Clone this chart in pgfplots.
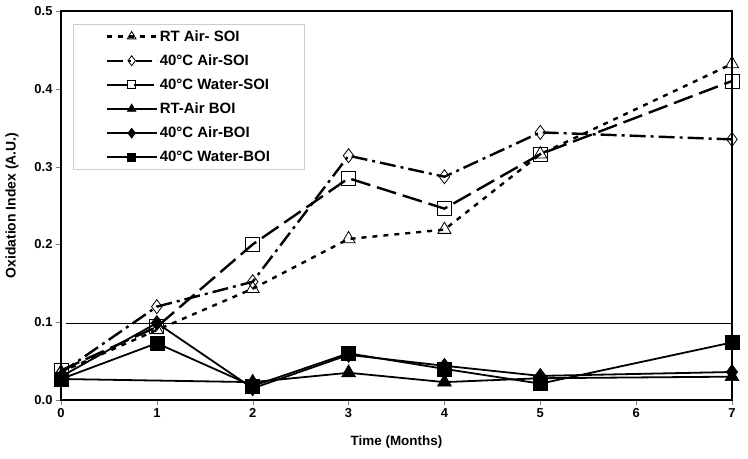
\documentclass[border=0pt]{standalone}
\usepackage{fontspec}
\setmainfont{Liberation Sans}
\usepackage{pgfplots}
\pgfplotsset{compat=1.18}

\pgfplotsset{
  leg/.style={legend image code/.code={\draw[mark repeat=2,mark phase=2,mark size=#1] plot coordinates {(0bp,0bp) (25bp,0bp) (50bp,0bp)};}}
}

\begin{document}
\begin{tikzpicture}[font=\bfseries]
\begin{axis}[
    name=ax,
    scale only axis,
    width=671bp, height=389bp,
    xmin=0, xmax=7, ymin=0, ymax=0.5,
    xtick={0,1,2,3,4,5,6,7},
    ytick={0,0.1,0.2,0.3,0.4,0.5},
    yticklabel style={/pgf/number format/.cd, fixed, fixed zerofill, precision=1},
    /pgf/number format/assume math mode=true,
    tick label style={font=\fontsize{13}{15}\selectfont\bfseries},
    xtick pos=bottom, ytick pos=left,
    tick align=outside,
    major tick length=5bp,
    axis line style={line width=1.2bp},
    xlabel={Time (Months)},
    ylabel={Oxidation Index (A.U.)},
    x label style={at={(axis description cs:0.5,0)}, yshift=-42bp, anchor=center, font=\fontsize{13.5}{16}\selectfont\bfseries},
    y label style={at={(axis description cs:0,0.5)}, yshift=49bp, anchor=center, font=\fontsize{14}{16}\selectfont\bfseries},
    legend cell align=left,
    legend style={at={(0.018,0.967)}, anchor=north west, draw=black!20, line width=0.8bp,
        font=\fontsize{15}{17}\selectfont\bfseries, inner xsep=32bp, inner ysep=4bp,
        row sep=8bp},
]
% SOI series
\addplot[black, line width=2.4bp, dash pattern=on 5bp off 6bp, leg=5bp,
    mark=triangle, mark size=7.5bp, mark options={solid, fill=white, line width=0.8bp},
    error bars/.cd, y dir=plus, y explicit, error mark options={black, solid, mark size=6bp, line width=0.9bp}]
    coordinates {(0,0.036) +- (0,0.015) (1,0.090) (2,0.143) (3,0.207) (4,0.219) (5,0.316) (7,0.432)};
\addlegendentry{RT Air- SOI}
\addplot[black, line width=2.4bp, dash pattern=on 16bp off 5bp on 3bp off 5bp, leg=5bp,
    mark=diamond, mark size=7bp, mark options={solid, fill=white, line width=0.8bp}]
    coordinates {(0,0.035) (1,0.120) (2,0.152) (3,0.314) (4,0.287) (5,0.344) (7,0.335)};
\addlegendentry{40°C Air-SOI}
\addplot[black, line width=2.4bp, dash pattern=on 20bp off 7bp, leg=4bp,
    mark=square, mark size=7bp, mark options={solid, fill=white, line width=0.8bp}]
    coordinates {(0,0.038) (1,0.094) (2,0.200) (3,0.285) (4,0.246) (5,0.316) (7,0.410)};
\addlegendentry{40°C Water-SOI}
% BOI series
\addplot[black, line width=1.8bp, leg=5bp, mark=triangle*, mark size=8bp, mark options={solid, line width=0.6bp}]
    coordinates {(0,0.027) (2,0.023) (3,0.035) (4,0.023) (5,0.028) (7,0.030)};
\addlegendentry{RT-Air BOI}
\addplot[black, line width=1.8bp, leg=5bp, mark=diamond*, mark size=7.5bp, mark options={solid, line width=0.6bp}]
    coordinates {(0,0.030) (1,0.099) (2,0.015) (3,0.058) (4,0.044) (5,0.031) (7,0.036)};
\addlegendentry{40°C Air-BOI}
\addplot[black, line width=1.8bp, leg=4bp, mark=square*, mark size=7bp, mark options={solid, line width=0.6bp}]
    coordinates {(0,0.027) (1,0.073) (2,0.018) (3,0.060) (4,0.040) (5,0.021) (7,0.074)};
\addlegendentry{40°C Water-BOI}
% threshold line
\addplot[black, line width=1.3bp, forget plot] coordinates {(0.05,0.098) (7,0.098)};
\end{axis}
\pgfresetboundingbox
\path ([shift={(-61bp,-58bp)}]ax.south west) rectangle ([shift={(16bp,11bp)}]ax.north east);
\end{tikzpicture}
\end{document}
